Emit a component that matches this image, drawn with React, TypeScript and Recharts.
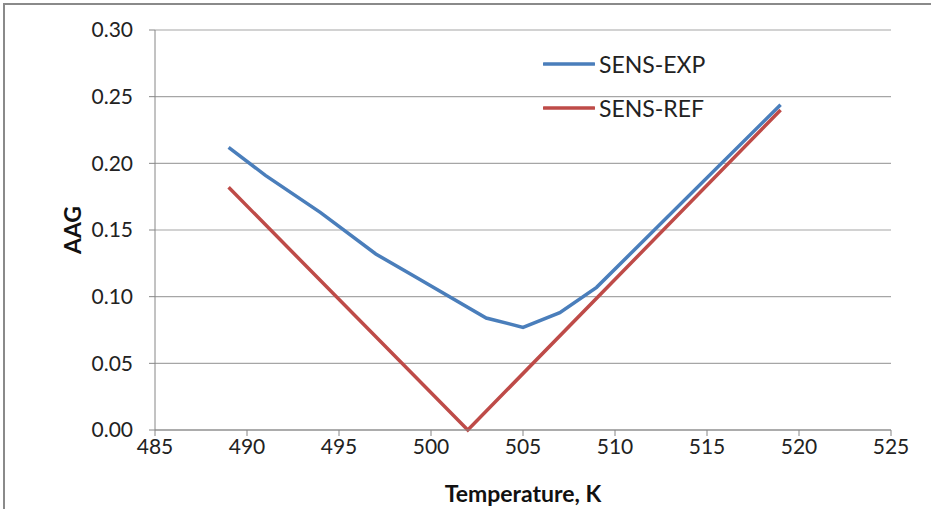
import React from "react";
import { LineChart, Line, XAxis, YAxis, CartesianGrid, Legend } from "recharts";

const expTemps = [489, 491, 494, 497, 499, 503, 505, 507, 509, 519];
const expAag = [0.212, 0.191, 0.163, 0.132, 0.116, 0.084, 0.077, 0.088, 0.107, 0.244];
const refTemps = [489, 502, 519];
const refAag = [0.182, 0.0, 0.24];
const xTicks = [485, 490, 495, 500, 505, 510, 515, 520, 525];
const yTicks = [0, 0.05, 0.1, 0.15, 0.2, 0.25, 0.3];

const expData = expTemps.map((t, i) => ({ t, v: expAag[i] }));
const refData = refTemps.map((t, i) => ({ t, v: refAag[i] }));

const FONT = "Lato, 'Open Sans', sans-serif";
const BLUE = "#4a7ebb";
const RED = "#be4b48";

const LegendContent = (props: any) => {
  const payload = props.payload || [];
  return (
    <div style={{ fontFamily: FONT, fontSize: 23, color: "#222" }}>
      {payload.map((p: any, i: number) => (
        <div key={i} style={{ display: "flex", alignItems: "center", height: 44 }}>
          <svg width={52} height={10} style={{ marginRight: 4 }}>
            <line x1={1} y1={5} x2={51} y2={5} stroke={p.color} strokeWidth={3.5} strokeLinecap="round" />
          </svg>
          <span>{p.value}</span>
        </div>
      ))}
    </div>
  );
};

export default function App() {
  return (
    <div style={{ position: "absolute", left: 0, top: 0, width: 931, height: 509, overflow: "hidden", background: "#fff" }}>
      <div
        style={{
          position: "absolute",
          left: 3,
          top: 3,
          width: 1000,
          height: 600,
          borderTop: "2px solid #8a8a8a",
          borderLeft: "2px solid #8a8a8a",
        }}
      />
      <div style={{ position: "absolute", left: 0, top: 0 }}>
        <LineChart width={931} height={509} margin={{ top: 30, right: 40, bottom: 39, left: 95 }}>
          <CartesianGrid horizontal={true} vertical={false} stroke="#a6a6a6" strokeWidth={1.2} />
          <XAxis
            type="number"
            dataKey="t"
            domain={[485, 525]}
            ticks={xTicks}
            interval={0}
            allowDuplicatedCategory={false}
            height={40}
            stroke="#868686"
            tickSize={6}
            tickMargin={3}
            tick={{ fill: "#222", fontSize: 21, fontFamily: FONT }}
            label={{
              content: (p: any) => {
                const vb = p.viewBox;
                return (
                  <text
                    x={vb.x + vb.width / 2}
                    y={vb.y + 63}
                    textAnchor="middle"
                    dominantBaseline="central"
                    fontFamily={FONT}
                    fontSize={23}
                    fontWeight="bold"
                    fill="#111"
                  >
                    Temperature, K
                  </text>
                );
              },
            }}
          />
          <YAxis
            type="number"
            domain={[0, 0.3]}
            ticks={yTicks}
            interval={0}
            width={60}
            stroke="#868686"
            tickSize={6}
            tickMargin={16}
            tickFormatter={(v: number) => v.toFixed(2)}
            tick={{ fill: "#222", fontSize: 21, fontFamily: FONT }}
            label={{
              content: (p: any) => {
                const vb = p.viewBox;
                const cx = vb.x + vb.width - 83;
                const cy = vb.y + vb.height / 2;
                return (
                  <text
                    x={cx}
                    y={cy}
                    transform={`rotate(-90 ${cx} ${cy})`}
                    textAnchor="middle"
                    dominantBaseline="central"
                    fontFamily={FONT}
                    fontSize={23}
                    fontWeight="bold"
                    fill="#111"
                  >
                    AAG
                  </text>
                );
              },
            }}
          />
          <Legend
            layout="vertical"
            verticalAlign="middle"
            align="center"
            content={LegendContent}
            wrapperStyle={{ position: "absolute", left: 543, top: 42, width: 200 }}
          />
          <Line
            data={expData}
            dataKey="v"
            name="SENS-EXP"
            stroke={BLUE}
            strokeWidth={3.5}
            dot={false}
            type="linear"
            isAnimationActive={false}
          />
          <Line
            data={refData}
            dataKey="v"
            name="SENS-REF"
            stroke={RED}
            strokeWidth={3.5}
            dot={false}
            type="linear"
            isAnimationActive={false}
          />
        </LineChart>
      </div>
    </div>
  );
}
